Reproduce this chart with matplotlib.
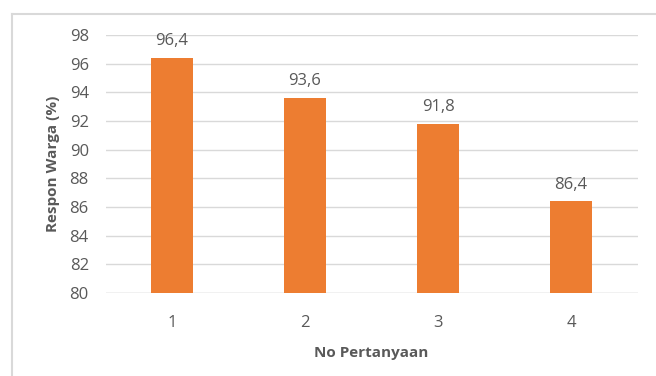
import matplotlib
matplotlib.use("Agg")
import matplotlib.pyplot as plt
from matplotlib.lines import Line2D

categories = ["1", "2", "3", "4"]
values = [96.4, 93.6, 91.8, 86.4]
value_labels = ["96,4", "93,6", "91,8", "86,4"]
yticks = [80, 82, 84, 86, 88, 90, 92, 94, 96, 98]

plt.rcParams['font.family'] = ['Open Sans', 'DejaVu Sans']
txt = '#595959'

fig = plt.figure(figsize=(6.56, 3.76), dpi=100)
ax = fig.add_axes([105.5/656, 1-293/376, 532/656, 258/376])

x = list(range(len(categories)))
ax.bar(x, [v - 80 for v in values], bottom=80, width=0.32, color='#ED7D31', zorder=3)
for xi, v, lab in zip(x, values, value_labels):
    ax.text(xi, v + 0.6, lab, ha='center', va='bottom', fontsize=12, color=txt)

ax.set_xlim(-0.5, 3.5)
ax.set_ylim(80, 98)
ax.set_yticks(yticks)
ax.set_yticklabels([str(t) for t in yticks])
ax.set_xticks(x)
ax.set_xticklabels(categories)
ax.yaxis.grid(True, color='#D9D9D9', linewidth=1.0, zorder=0)
ax.tick_params(axis='both', length=0, labelsize=12, colors=txt)
ax.tick_params(axis='y', pad=12)
ax.tick_params(axis='x', pad=16)
for s in ax.spines.values():
    s.set_visible(False)
ax.axhline(80, color='#D9D9D9', linewidth=1.0, zorder=1)

ax.set_ylabel('Respon Warga (%)', fontsize=11, fontweight='bold', color=txt, labelpad=7)
ax.set_xlabel('No Pertanyaan', fontsize=11, fontweight='bold', color=txt, labelpad=11)

# outer border
fig.add_artist(Line2D([12/656, 1], [1-13.5/376, 1-13.5/376], transform=fig.transFigure, color='#D9D9D9', linewidth=1.5))
fig.add_artist(Line2D([12/656, 12/656], [0, 1-13.5/376], transform=fig.transFigure, color='#D9D9D9', linewidth=1.5))

fig.savefig('out.png', dpi=100)
